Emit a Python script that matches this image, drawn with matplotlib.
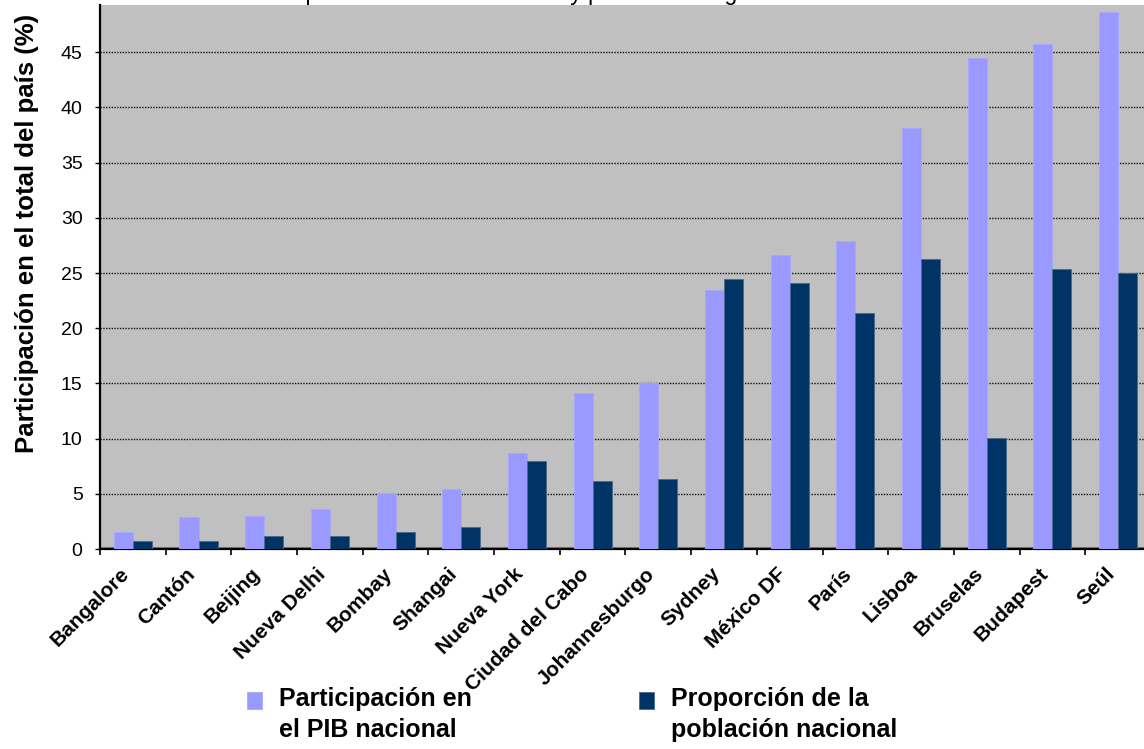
import numpy as np
import matplotlib
matplotlib.use('Agg')
import matplotlib.pyplot as plt
from matplotlib.patches import Rectangle

plt.rcParams['font.family'] = ['Liberation Sans', 'DejaVu Sans']

#-- data
ciudades = ['Bangalore', 'Cantón', 'Beijing', 'Nueva Delhi', 'Bombay', 'Shangai',
            'Nueva York', 'Ciudad del Cabo', 'Johannesburgo', 'Sydney', 'México DF',
            'París', 'Lisboa', 'Bruselas', 'Budapest', 'Seúl']
pib = [1.57, 2.87, 3.02, 3.6, 5.05, 5.4, 8.67, 14.1, 15.0, 23.5, 26.6, 27.9,
       38.1, 44.45, 45.75, 48.6]
poblacion = [0.7, 0.7, 1.2, 1.2, 1.57, 1.97, 7.94, 6.13, 6.31, 24.45, 24.1,
             21.4, 26.3, 10.05, 25.4, 25.0]
yticks = [0, 5, 10, 15, 20, 25, 30, 35, 40, 45]

titulo = 'Participación en el PIB nacional y población de grandes ciudades seleccionadas'
label_pib = 'Participación en\nel PIB nacional'
label_pob = 'Proporción de la\npoblación nacional'

col_pib = '#9999FF'
col_pob = '#003366'

fig = plt.figure(figsize=(11.44, 7.49), dpi=100)
ax = fig.add_axes([0.0874, 0.267, 0.9187, 0.7267])
ax.set_facecolor('#C0C0C0')

x = np.arange(len(ciudades))
w = 0.29
b1 = ax.bar(x - w/2, pib, w, color=col_pib, edgecolor='#A8A8FF', linewidth=0.6, zorder=3)
b2 = ax.bar(x + w/2, poblacion, w, color=col_pob, edgecolor='#4A6A8A', linewidth=0.6, zorder=3)

ax.set_xlim(-0.5, len(ciudades) - 0.5)
ax.set_ylim(0, 49.3)
ax.set_yticks(yticks)
ax.yaxis.grid(True, color='#111111', linestyle=(0, (1, 1)), linewidth=1.0)
ax.set_axisbelow(True)
ax.axhline(0.12, color='#808080', linewidth=1.5, zorder=2)

#-- category labels at centers, tick marks at boundaries
ax.set_xticks(x)
ax.set_xticklabels(ciudades, rotation=45, ha='right', fontsize=15, fontweight='bold')
ax.set_xticks(np.arange(len(ciudades) + 1) - 0.5, minor=True)
ax.tick_params(axis='x', which='major', length=0, pad=11)
ax.tick_params(axis='x', which='minor', length=4.3, width=1.2, direction='out')
ax.tick_params(axis='y', length=3.5, width=1.0, direction='out', labelsize=14, pad=9)

for s in ['top', 'right']:
    ax.spines[s].set_visible(False)
ax.spines['left'].set_linewidth(1.6)
ax.spines['bottom'].set_linewidth(1.6)

ax.set_ylabel('Participación en el total del país (%)', fontsize=18.5, fontweight='bold')
ax.yaxis.set_label_coords(-0.058, 0.58)

#-- title (cut at top of the picture, as in the reference)
fig.text(0.568, 1.0, titulo, ha='center', va='baseline', fontsize=16.5)

#-- legend: square aligned with the first line of each label
W, H = 1144.0, 749.0
for x0, col, edge, txt in [(247, col_pib, '#A8A8FF', label_pib), (639, col_pob, '#4A6A8A', label_pob)]:
    fig.add_artist(Rectangle((x0 / W, (H - 709) / H), 15 / W, 17 / H, transform=fig.transFigure,
                             facecolor=col, edgecolor=edge, linewidth=0.6))
    fig.text((x0 + 32) / W, (H - 687) / H, txt, ha='left', va='top', fontsize=18,
             fontweight='bold', linespacing=1.35)

plt.savefig('out.png', dpi=100)
